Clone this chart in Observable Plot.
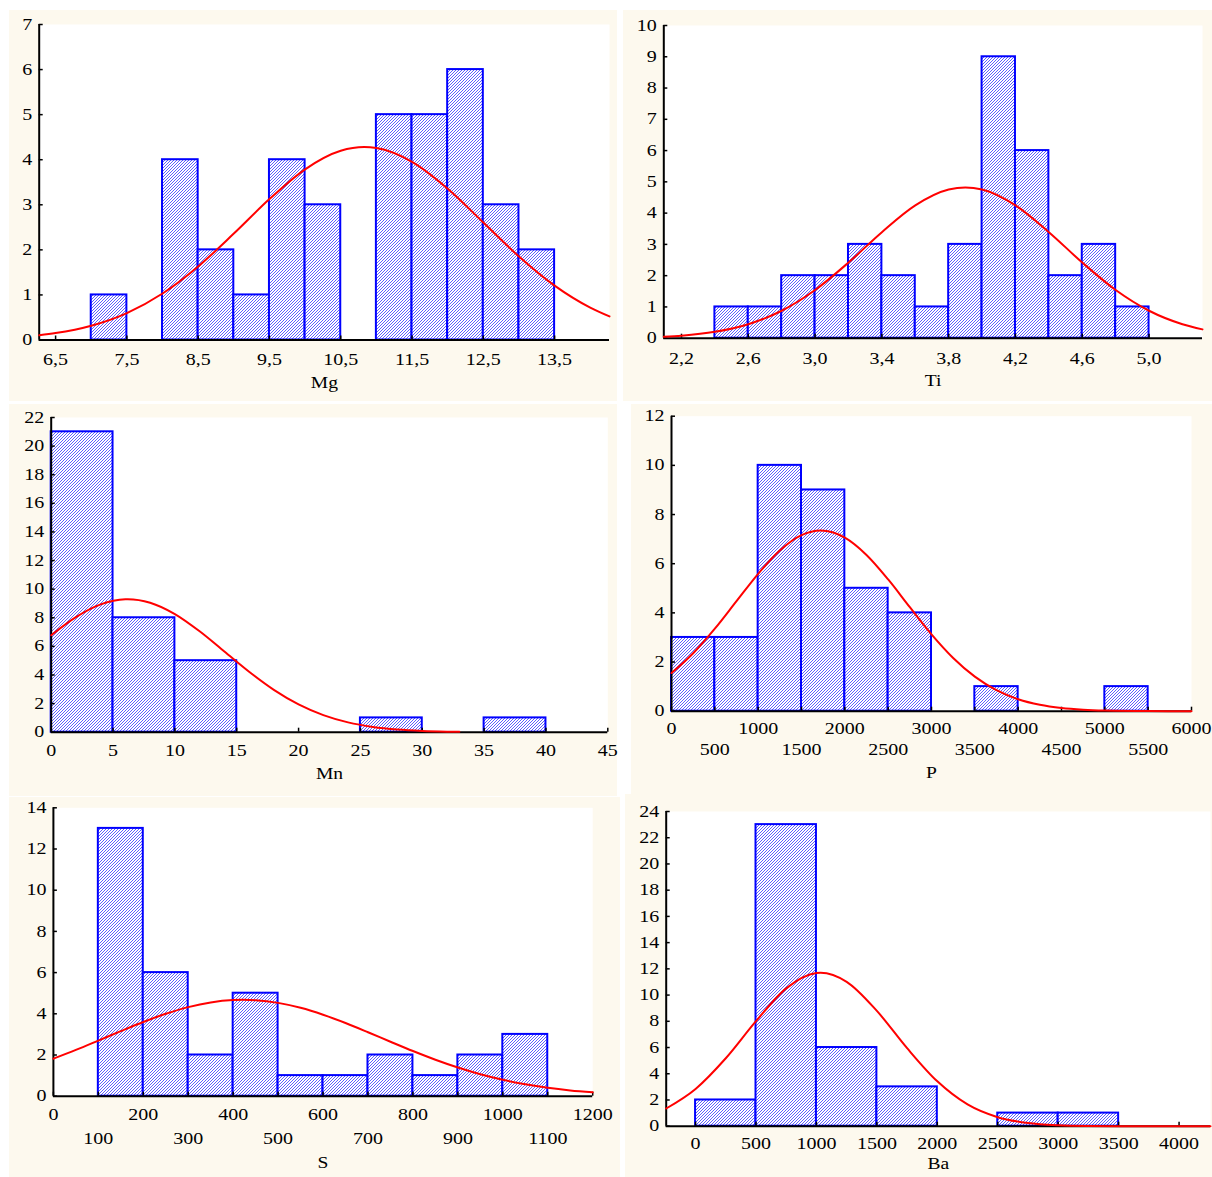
<!DOCTYPE html>
<html>
<head>
<meta charset="utf-8">
<script src="https://cdn.jsdelivr.net/npm/d3@7"></script>
<script src="https://cdn.jsdelivr.net/npm/@observablehq/plot@0.6"></script>
<style>
  html, body { margin: 0; padding: 0; background: #ffffff; }
  #root { position: relative; width: 1212px; height: 1177px; overflow: hidden; }
  #root svg.panel { position: absolute; }
</style>
</head>
<body>
<svg width="0" height="0" style="position:absolute">
  <defs>
    <pattern id="hatch" patternUnits="userSpaceOnUse" width="3" height="3">
      <rect width="3" height="3" fill="#ffffff"/>
      <path d="M-1,1 L1,-1 M0,3 L3,0 M2,4 L4,2" stroke="#3535ff" stroke-width="0.8"/>
    </pattern>
  </defs>
</svg>
<div id="root"></div>
<script>
// ---------------- Data ----------------
// Mg
const mgBinStart = [7.0, 8.0, 8.5, 9.0, 9.5, 10.0, 11.0, 11.5, 12.0, 12.5, 13.0];
const mgCounts   = [1, 4, 2, 1, 4, 3, 5, 5, 6, 3, 2];
const mgBinWidth = 0.5;
const mgCurveX = [6.27, 6.5, 7.0, 7.5, 8.0, 8.5, 9.0, 9.5, 10.0, 10.5, 10.83, 11.0, 11.5, 12.0, 12.5, 13.0, 13.5, 14.0, 14.27];
const mgCurveY = [0.107, 0.153, 0.316, 0.597, 1.031, 1.632, 2.361, 3.126, 3.787, 4.198, 4.28, 4.258, 3.952, 3.356, 2.608, 1.855, 1.207, 0.719, 0.523];
const mgXTicks = [6.5, 7.5, 8.5, 9.5, 10.5, 11.5, 12.5, 13.5];
const mgXLabels = ["6,5", "7,5", "8,5", "9,5", "10,5", "11,5", "12,5", "13,5"];
const mgYTicks = [0, 1, 2, 3, 4, 5, 6, 7];

// Ti
const tiBinStart = [2.4, 2.6, 2.8, 3.0, 3.2, 3.4, 3.6, 3.8, 4.0, 4.2, 4.4, 4.6, 4.8];
const tiCounts   = [1, 1, 2, 2, 3, 2, 1, 3, 9, 6, 2, 3, 1];
const tiBinWidth = 0.2;
const tiCurveX = [2.094, 2.2, 2.4, 2.6, 2.8, 3.0, 3.2, 3.4, 3.6, 3.8, 3.9, 4.0, 4.2, 4.4, 4.6, 4.8, 5.0, 5.2, 5.32];
const tiCurveY = [0.049, 0.082, 0.203, 0.447, 0.878, 1.541, 2.419, 3.390, 4.246, 4.753, 4.82, 4.753, 4.246, 3.390, 2.419, 1.541, 0.878, 0.447, 0.282];
const tiXTicks = [2.2, 2.6, 3.0, 3.4, 3.8, 4.2, 4.6, 5.0];
const tiXLabels = ["2,2", "2,6", "3,0", "3,4", "3,8", "4,2", "4,6", "5,0"];
const tiYTicks = [0, 1, 2, 3, 4, 5, 6, 7, 8, 9, 10];

// Mn
const mnBinStart = [0, 5, 10, 25, 35];
const mnCounts   = [21, 8, 5, 1, 1];
const mnBinWidth = 5;
const mnCurveX = [0, 2, 4, 6, 6.2, 8, 10, 12, 14, 16, 18, 20, 22, 24, 26, 28, 30, 32, 33];
const mnCurveY = [6.78, 8.045, 8.937, 9.297, 9.3, 9.055, 8.259, 7.053, 5.641, 4.224, 2.961, 1.944, 1.195, 0.688, 0.371, 0.187, 0.088, 0.039, 0.025];
const mnXTicks = [0, 5, 10, 15, 20, 25, 30, 35, 40, 45];
const mnXLabels = ["0", "5", "10", "15", "20", "25", "30", "35", "40", "45"];
const mnYTicks = [0, 2, 4, 6, 8, 10, 12, 14, 16, 18, 20, 22];

// P
const pBinStart = [0, 500, 1000, 1500, 2000, 2500, 3500, 5000];
const pCounts   = [3, 3, 10, 9, 5, 4, 1, 1];
const pBinWidth = 500;
const pCurveX = [0, 250, 500, 750, 1000, 1250, 1500, 1723, 2000, 2250, 2500, 2750, 3000, 3250, 3500, 3750, 4000, 4250, 4500, 4750, 5000, 5500, 6000];
const pCurveY = [1.552, 2.359, 3.357, 4.476, 5.590, 6.537, 7.161, 7.35, 7.060, 6.355, 5.358, 4.230, 3.128, 2.167, 1.406, 0.854, 0.486, 0.259, 0.129, 0.061, 0.027, 0.004, 0.0005];
const pXTicksRow1 = [0, 1000, 2000, 3000, 4000, 5000, 6000];
const pXLabelsRow1 = ["0", "1000", "2000", "3000", "4000", "5000", "6000"];
const pXTicksRow2 = [500, 1500, 2500, 3500, 4500, 5500];
const pXLabelsRow2 = ["500", "1500", "2500", "3500", "4500", "5500"];
const pYTicks = [0, 2, 4, 6, 8, 10, 12];

// S
const sBinStart = [100, 200, 300, 400, 500, 600, 700, 800, 900, 1000];
const sCounts   = [13, 6, 2, 5, 1, 1, 2, 1, 2, 3];
const sBinWidth = 100;
const sCurveX = [0, 50, 100, 150, 200, 250, 300, 350, 400, 422, 450, 500, 550, 600, 650, 700, 750, 800, 850, 900, 950, 1000, 1050, 1100, 1150, 1200];
const sCurveY = [1.820, 2.246, 2.700, 3.160, 3.604, 4.000, 4.325, 4.553, 4.668, 4.68, 4.661, 4.531, 4.291, 3.956, 3.552, 3.106, 2.645, 2.193, 1.771, 1.393, 1.066, 0.796, 0.578, 0.408, 0.281, 0.189];
const sXTicksRow1 = [0, 200, 400, 600, 800, 1000, 1200];
const sXLabelsRow1 = ["0", "200", "400", "600", "800", "1000", "1200"];
const sXTicksRow2 = [100, 300, 500, 700, 900, 1100];
const sXLabelsRow2 = ["100", "300", "500", "700", "900", "1100"];
const sYTicks = [0, 2, 4, 6, 8, 10, 12, 14];

// Ba
const baBinStart = [0, 500, 1000, 1500, 2500, 3000];
const baCounts   = [2, 23, 6, 3, 1, 1];
const baBinWidth = 500;
const baCurveX = [-243, 0, 250, 500, 750, 1000, 1035, 1250, 1500, 1750, 2000, 2250, 2500, 2750, 3000, 3250, 3500, 3750, 4000, 4260];
const baCurveY = [1.35, 2.84, 5.18, 8.01, 10.51, 11.68, 11.7, 11.01, 8.79, 5.95, 3.42, 1.66, 0.686, 0.240, 0.071, 0.018, 0.004, 0.001, 0, 0];
const baXTicks = [0, 500, 1000, 1500, 2000, 2500, 3000, 3500, 4000];
const baXLabels = ["0", "500", "1000", "1500", "2000", "2500", "3000", "3500", "4000"];
const baYTicks = [0, 2, 4, 6, 8, 10, 12, 14, 16, 18, 20, 22, 24];

// ---------------- Drawing ----------------
const FONT = "'Liberation Serif', 'Times New Roman', serif";
const CREAM = "#fdf9ee";

function stretchTexts(svg, title) {
  svg.querySelectorAll("text").forEach(t => {
    const f = t.textContent === title ? 1.15 : 1.25;
    const tr = t.getAttribute("transform") || "";
    if (tr.includes("translate")) {
      t.setAttribute("transform", tr + ` scale(${f},1)`);
    } else {
      const x = +(t.getAttribute("x") || 0), y = +(t.getAttribute("y") || 0);
      t.removeAttribute("x"); t.removeAttribute("y");
      t.setAttribute("transform", `translate(${x},${y}) ${tr} scale(${f},1)`);
    }
  });
}

function panel(cfg) {
  const plotW = cfg.width - cfg.mL - cfg.mR;
  const plotH = cfg.height - cfg.mT - cfg.mB;
  const bins = cfg.starts.map((s, i) => ({x1: s, x2: s + cfg.binWidth, y: cfg.counts[i]}));
  const curve = cfg.curveX.map((x, i) => ({x, y: cfg.curveY[i]}));
  const allXTicks = cfg.rows.flatMap(r => r.ticks);
  const marks = [
    Plot.frame({fill: "white", stroke: "none"}),
    Plot.rectY(bins, {x1: "x1", x2: "x2", y: "y", fill: "url(#hatch)", stroke: "#0000ff", strokeWidth: 2}),
    Plot.ruleY([0], {stroke: "black", strokeWidth: 2}),
    Plot.ruleX([cfg.xDomain[0]], {stroke: "black", strokeWidth: 2}),
    Plot.tickX(allXTicks, {x: d => d, stroke: "black", strokeWidth: 1.5, insetTop: plotH - 4}),
    Plot.tickY(cfg.yTicks, {y: d => d, stroke: "black", strokeWidth: 1.5, insetRight: plotW - 4}),
    Plot.line(curve, {x: "x", y: "y", stroke: "#ff0000", strokeWidth: 2, curve: "monotone-x"}),
    Plot.text(cfg.yTicks, {x: cfg.xDomain[0], y: d => d, text: d => String(d), textAnchor: "end", dx: -7, fontSize: 16}),
    Plot.text([cfg.title], {frameAnchor: "bottom", dy: cfg.titleDy, text: d => d, fontSize: 17})
  ];
  cfg.rows.forEach(r => {
    const lab = r.ticks.map((t, i) => ({x: t, label: r.labels[i]}));
    marks.push(Plot.text(lab, {x: "x", y: 0, text: "label", dy: r.dy, fontSize: 16}));
  });
  const svg = Plot.plot({
    width: cfg.width,
    height: cfg.height,
    marginLeft: cfg.mL,
    marginRight: cfg.mR,
    marginTop: cfg.mT,
    marginBottom: cfg.mB,
    x: {domain: cfg.xDomain, axis: null},
    y: {domain: cfg.yDomain, axis: null},
    style: {background: CREAM, fontFamily: FONT, fontSize: "16px", color: "black", overflow: "visible"},
    marks
  });
  stretchTexts(svg, cfg.title);
  svg.classList.add("panel");
  svg.style.left = cfg.left + "px";
  svg.style.top = cfg.top + "px";
  document.getElementById("root").appendChild(svg);
}

panel({
  left: 9, top: 10, width: 608, height: 391, mL: 29.7, mR: 8, mT: 14, mB: 61.5,
  xDomain: [6.27, 14.27], yDomain: [0, 7],
  starts: mgBinStart, counts: mgCounts, binWidth: mgBinWidth,
  curveX: mgCurveX, curveY: mgCurveY,
  rows: [{ticks: mgXTicks, labels: mgXLabels, dy: 19.5}],
  yTicks: mgYTicks, title: "Mg", titleDy: 47.5
});

panel({
  left: 623, top: 10, width: 589, height: 391, mL: 40.3, mR: 10, mT: 15, mB: 63.3,
  xDomain: [2.094, 5.32], yDomain: [0, 10],
  starts: tiBinStart, counts: tiCounts, binWidth: tiBinWidth,
  curveX: tiCurveX, curveY: tiCurveY,
  rows: [{ticks: tiXTicks, labels: tiXLabels, dy: 20.6}],
  yTicks: tiYTicks, title: "Ti", titleDy: 48
});

panel({
  left: 9, top: 404, width: 608, height: 392, mL: 41.7, mR: 9.7, mT: 13, mB: 64.3,
  xDomain: [0, 45], yDomain: [0, 22],
  starts: mnBinStart, counts: mnCounts, binWidth: mnBinWidth,
  curveX: mnCurveX, curveY: mnCurveY,
  rows: [{ticks: mnXTicks, labels: mnXLabels, dy: 18.3}],
  yTicks: mnYTicks, title: "Mn", titleDy: 46.3
});

panel({
  left: 631, top: 404, width: 581, height: 392, mL: 40, mR: 21, mT: 11.7, mB: 85.3,
  xDomain: [0, 6000], yDomain: [0, 12],
  starts: pBinStart, counts: pCounts, binWidth: pBinWidth,
  curveX: pCurveX, curveY: pCurveY,
  rows: [{ticks: pXTicksRow1, labels: pXLabelsRow1, dy: 17.3},
         {ticks: pXTicksRow2, labels: pXLabelsRow2, dy: 38.3}],
  yTicks: pYTicks, title: "P", titleDy: 66.3
});

panel({
  left: 9, top: 797, width: 611, height: 380, mL: 43.9, mR: 27.8, mT: 10.3, mB: 81.3,
  xDomain: [0, 1200], yDomain: [0, 14],
  starts: sBinStart, counts: sCounts, binWidth: sBinWidth,
  curveX: sCurveX, curveY: sCurveY,
  rows: [{ticks: sXTicksRow1, labels: sXLabelsRow1, dy: 18.3},
         {ticks: sXTicksRow2, labels: sXLabelsRow2, dy: 42.3}],
  yTicks: sYTicks, title: "S", titleDy: 71.3
});

panel({
  left: 625, top: 794, width: 587, height: 383, mL: 40.7, mR: 2, mT: 17, mB: 51.3,
  xDomain: [-243, 4260], yDomain: [0, 24],
  starts: baBinStart, counts: baCounts, binWidth: baBinWidth,
  curveX: baCurveX, curveY: baCurveY,
  rows: [{ticks: baXTicks, labels: baXLabels, dy: 17.3}],
  yTicks: baYTicks, title: "Ba", titleDy: 42.3
});
</script>
</body>
</html>
